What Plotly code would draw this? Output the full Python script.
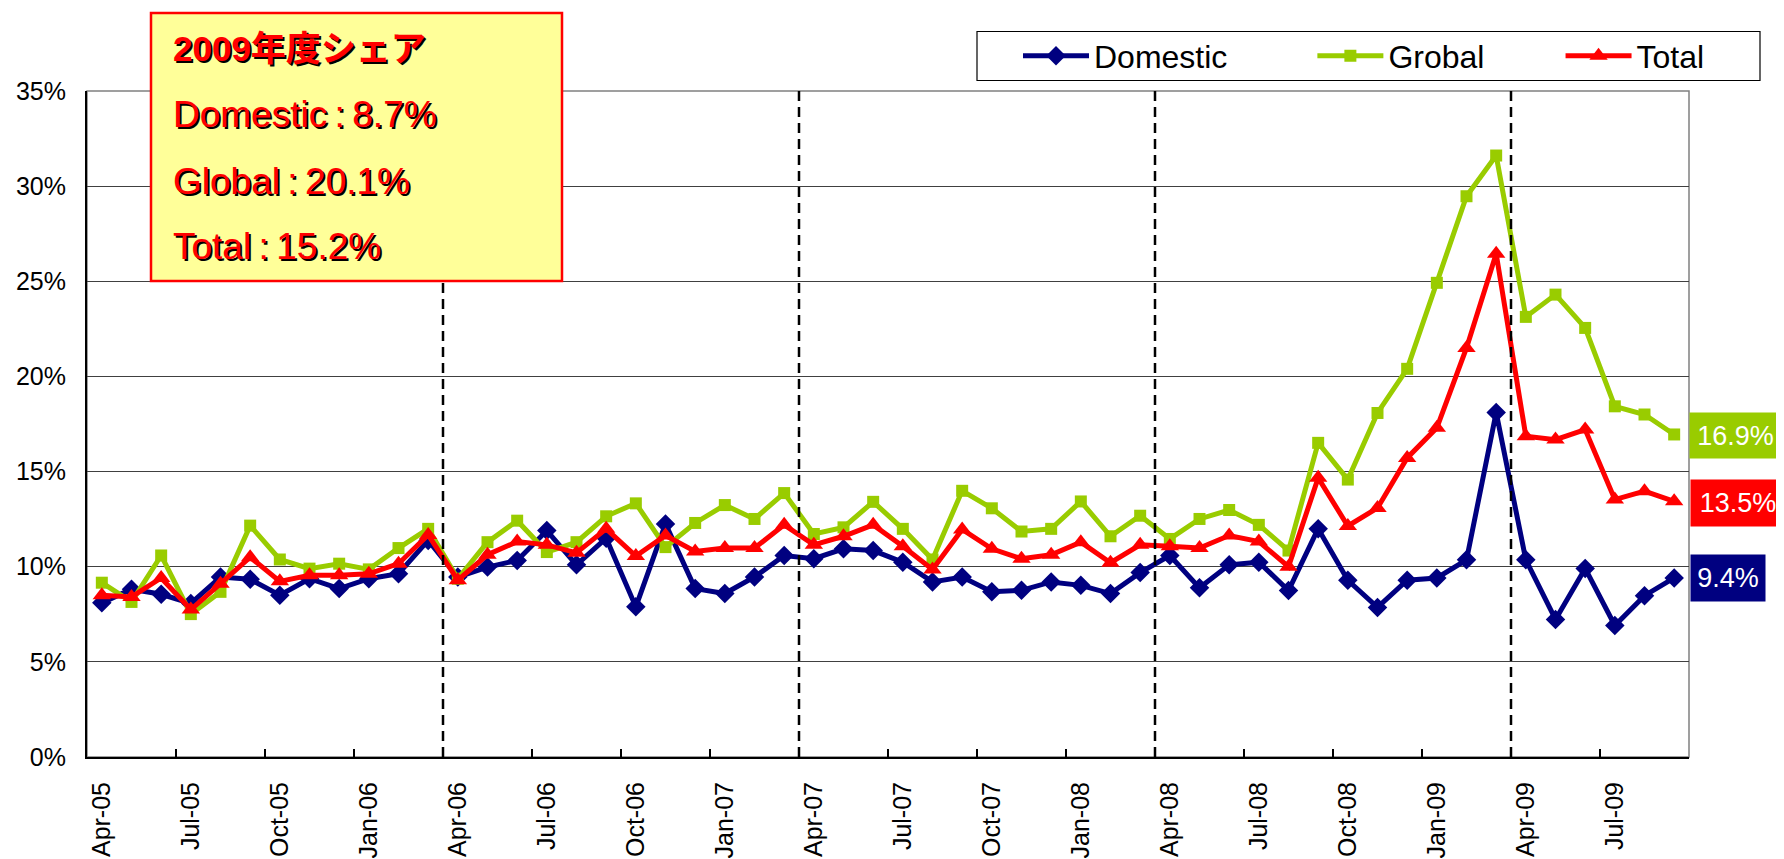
import pandas as pd
import plotly.graph_objects as go

# ---------------- data ----------------
months = list(pd.date_range("2005-04-01", "2009-09-01", freq="MS").strftime("%b-%y"))

domestic = [8.10, 8.82, 8.55, 8.07, 9.46, 9.34, 8.50, 9.37, 8.85, 9.37, 9.63, 11.38,
            9.46, 9.98, 10.33, 11.90, 10.10, 11.50, 7.89, 12.25, 8.85, 8.59, 9.46, 10.59,
            10.42, 10.94, 10.85, 10.24, 9.20, 9.46, 8.68, 8.76, 9.20, 9.02, 8.59, 9.69,
            10.59, 8.89, 10.10, 10.24, 8.75, 12.00, 9.29, 7.86, 9.29, 9.41, 10.36, 18.10,
            10.36, 7.23, 9.91, 6.91, 8.48, 9.41]
grobal = [9.16, 8.15, 10.59, 7.51, 8.68, 12.16, 10.38, 9.90, 10.16, 9.86, 10.98, 11.99,
          9.37, 11.29, 12.42, 10.77, 11.29, 12.65, 13.33, 11.03, 12.30, 13.24, 12.51, 13.87,
          11.72, 12.07, 13.41, 11.99, 10.38, 13.99, 13.07, 11.85, 11.99, 13.43, 11.60, 12.68,
          11.46, 12.51, 12.98, 12.20, 10.85, 16.51, 14.58, 18.08, 20.40, 24.92, 29.47, 31.61,
          23.13, 24.30, 22.55, 18.43, 18.00, 16.95]
total = [8.50, 8.41, 9.41, 7.75, 9.11, 10.50, 9.23, 9.55, 9.55, 9.63, 10.16, 11.67,
         9.29, 10.63, 11.32, 11.15, 10.73, 11.99, 10.56, 11.64, 10.80, 10.98, 10.98, 12.20,
         11.15, 11.60, 12.20, 11.08, 9.86, 11.96, 10.94, 10.42, 10.63, 11.29, 10.21, 11.15,
         11.08, 10.98, 11.64, 11.32, 10.00, 14.67, 12.14, 13.09, 15.72, 17.30, 21.50, 26.45,
         16.86, 16.68, 17.21, 13.53, 13.97, 13.44]

series_names = ["Domestic", "Grobal", "Total"]
series_colors = ["#000080", "#99CC00", "#FF0000"]
fiscal_starts = ["Apr-06", "Apr-07", "Apr-08", "Apr-09"]
end_labels = ["9.4%", "16.9%", "13.5%"]
box_title = "2009年度シェア"
box_lines = ["Domestic\u2009:\u20098.7%", "Global\u2009:\u200920.1%", "Total\u2009:\u200915.2%"]

# ---------------- layout helpers ----------------
# The page body has an 8px default margin, so the figure is drawn 8px smaller
# and all target screen positions are shifted by OFF.
OFF = 8
W, H = 1784 - OFF, 859 - OFF
# plot area in screen pixels
SL, SR, ST, SB = 87, 1689, 91, 757
L, R, T, B = SL - OFF, SR - OFF, ST - OFF, SB - OFF


def px(x):
    return (x - OFF - L) / (R - L)


def py(y):
    return (B - (y - OFF)) / (B - T)


FONT = "Liberation Sans, Arial, sans-serif"
pads = ["\u00a0" * 9, "\u00a0" * 8, ""]

fig = go.Figure()
markers = [dict(symbol="diamond", size=15), dict(symbol="square", size=12),
           dict(symbol="triangle-up", size=16)]
for name, ys, col, mk, pad in zip(series_names, [domestic, grobal, total],
                                  series_colors, markers, pads):
    fig.add_trace(go.Scatter(
        x=months, y=ys, name=name + pad, mode="lines+markers",
        line=dict(color=col, width=5),
        marker=dict(color=col, line=dict(width=0), **mk),
    ))

shapes = []
# plot frame (gray)
shapes.append(dict(type="rect", xref="paper", yref="paper", x0=0, x1=1, y0=0, y1=1,
                   line=dict(color="#808080", width=1.5), layer="below"))
# fiscal year dashed lines
for m in fiscal_starts:
    xi = months.index(m) - 0.5
    shapes.append(dict(type="line", xref="x", yref="paper", x0=xi, x1=xi, y0=0, y1=1.005,
                       line=dict(color="black", width=2.5, dash="10px,6px"), layer="above"))
# yellow share box
shapes.append(dict(type="rect", xref="paper", yref="paper",
                   x0=px(151), x1=px(562), y0=py(281), y1=py(13),
                   fillcolor="#FFFF99", line=dict(color="#FF0000", width=2.5), layer="above"))
# legend frame
shapes.append(dict(type="rect", xref="paper", yref="paper",
                   x0=px(977), x1=px(1760), y0=py(80.5), y1=py(31.5),
                   fillcolor="white", line=dict(color="black", width=1.2), layer="above"))

annotations = []
line_centers = [48, 115, 181.5, 246.7]
texts = [box_title] + box_lines
for i, (txt, yc) in enumerate(zip(texts, line_centers)):
    bold = (i == 0)
    t = f"<b>{txt}</b>" if bold else txt
    size = 35 if bold else 37
    fam = "Liberation Sans, Noto Sans CJK JP, sans-serif"
    for col, xs, ysft in [("#000000", 2, -2), ("#FF0000", 0, 0)]:
        annotations.append(dict(xref="paper", yref="paper", x=px(172), y=py(yc),
                                xanchor="left", yanchor="middle", showarrow=False,
                                text=t, xshift=xs, yshift=ysft, borderpad=0,
                                font=dict(family=fam, size=size, color=col)))

# end value labels
label_boxes = [  # (x_left, y_top, width, height) in screen px
    (1690, 554, 74, 46),
    (1689, 412, 91, 45),
    (1690, 479, 94, 46),
]
for txt, col, (x0, y0, w, h) in zip(end_labels, series_colors, label_boxes):
    annotations.append(dict(xref="paper", yref="paper", x=px(x0), y=py(y0),
                            xanchor="left", yanchor="top", showarrow=False,
                            text=txt, width=w, height=h, bgcolor=col, borderpad=0,
                            align="center", valign="middle",
                            font=dict(family=FONT, size=27, color="white")))

fig.update_layout(
    width=W, height=H,
    margin=dict(l=L, r=W - R, t=T, b=H - B, pad=0, autoexpand=False),
    paper_bgcolor="white", plot_bgcolor="white",
    font=dict(family=FONT, color="black"),
    showlegend=True,
    legend=dict(orientation="h", xref="container", yref="container",
                x=(1018 - OFF) / W, xanchor="left", y=1 - (56 - OFF) / H, yanchor="middle",
                bgcolor="rgba(0,0,0,0)", borderwidth=0,
                font=dict(family=FONT, size=32, color="black"), itemwidth=66,
                traceorder="normal"),
    shapes=shapes, annotations=annotations,
)
fig.update_xaxes(type="category", categoryorder="array", categoryarray=months,
                 range=[-0.5, len(months) - 0.5], automargin=False,
                 tickmode="linear", tick0=0, dtick=3, tickson="boundaries",
                 ticks="inside", ticklen=8, tickwidth=1.5, tickcolor="black",
                 tickangle=-90, tickfont=dict(family=FONT, size=25, color="black"),
                 showgrid=False, showline=True, linecolor="black", linewidth=2,
                 ticklabelstandoff=13, zeroline=False)
fig.update_yaxes(range=[0, 35.001], tickmode="linear", tick0=0, dtick=5, ticksuffix="%",
                 automargin=False,
                 tickfont=dict(family=FONT, size=25, color="black"),
                 showgrid=True, gridcolor="#404040", gridwidth=1,
                 showline=True, linecolor="black", linewidth=2, ticks="",
                 ticklabelstandoff=14, zeroline=False)

fig.write_html("out.html")
